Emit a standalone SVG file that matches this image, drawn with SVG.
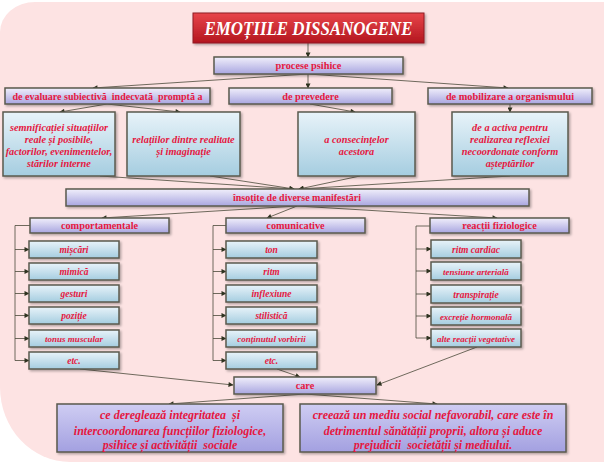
<svg xmlns="http://www.w3.org/2000/svg" width="604" height="462" viewBox="0 0 604 462">
<defs>
<linearGradient id="gLav" x1="0" y1="0" x2="0" y2="1"><stop offset="0" stop-color="#f1effb"/><stop offset="1" stop-color="#a9a6e0"/></linearGradient>
<linearGradient id="gLav2" x1="0" y1="0" x2="0" y2="1"><stop offset="0" stop-color="#cfcdf3"/><stop offset="1" stop-color="#a3a0e0"/></linearGradient>
<linearGradient id="gBlu" x1="0" y1="0" x2="0" y2="1"><stop offset="0" stop-color="#e8f3f9"/><stop offset="1" stop-color="#a5cde0"/></linearGradient>
<linearGradient id="gRed" x1="0" y1="0" x2="0" y2="1"><stop offset="0" stop-color="#e8454a"/><stop offset="1" stop-color="#b3161f"/></linearGradient>
<filter id="sh" x="-10%" y="-20%" width="120%" height="150%"><feDropShadow dx="1.5" dy="1.5" stdDeviation="1" flood-color="#000" flood-opacity="0.3"/></filter>
<marker id="ar" viewBox="0 0 10 10" refX="9" refY="5" markerWidth="6" markerHeight="5" markerUnits="userSpaceOnUse" orient="auto"><path d="M0,0 L10,5 L0,10 Z" fill="#2f3320"/></marker>
<style>
.lav{fill:url(#gLav);stroke:#5a5a4e;stroke-width:1.5;filter:url(#sh)}
.lav2{fill:url(#gLav2);stroke:#5a5a4e;stroke-width:1.5;filter:url(#sh)}
.blu{fill:url(#gBlu);stroke:#5a5a4e;stroke-width:1.5;filter:url(#sh)}
.t{font-family:"Liberation Serif","Times New Roman",serif;font-weight:bold;fill:#e5173f;text-anchor:middle}
.h{font-size:10.3px}
.i{font-style:italic}
.s{font-size:10.3px}
.it{font-size:9.5px}
.il{font-size:9px}
.b{font-size:12px}
.c{stroke:#4a4a3a;stroke-width:0.8;fill:none}
.ca{stroke:#4a4a3a;stroke-width:0.8;fill:none;marker-end:url(#ar)}
</style>
</defs>
<rect width="604" height="462" fill="#ffffff"/>
<path d="M35,2 H604 V462 H70 A70 75 0 0 1 0 387 V32 A35 30 0 0 1 35 2 Z" fill="#fde3e3"/>

<g id="connectors">
<path class="ca" d="M308,43 V57"/>
<path class="ca" d="M308,74 L93,88"/>
<path class="ca" d="M308,74 V88"/>
<path class="ca" d="M308,74 L508,88"/>
<path class="ca" d="M107,104 L60,112"/>
<path class="ca" d="M107,104 L180,112"/>
<path class="ca" d="M310,104 L355,112"/>
<path class="ca" d="M510,104 V112"/>
<path class="ca" d="M100,176 L294,189"/>
<path class="ca" d="M210,176 L294,189"/>
<path class="ca" d="M360,176 L299,189"/>
<path class="ca" d="M510,176 L299,189"/>
<path class="ca" d="M297,206 L102,218"/>
<path class="ca" d="M297,206 L267,218"/>
<path class="ca" d="M297,206 L497,218"/>
<path class="c" d="M30,225.5 H15 V360.5"/>
<path class="ca" d="M15,249.5 H29"/>
<path class="ca" d="M15,271.5 H29"/>
<path class="ca" d="M15,293.5 H29"/>
<path class="ca" d="M15,315.5 H29"/>
<path class="ca" d="M15,338.5 H29"/>
<path class="ca" d="M15,360.5 H29"/>
<path class="c" d="M226,225.5 H213 V360.5"/>
<path class="ca" d="M213,249.5 H226"/>
<path class="ca" d="M213,271.5 H226"/>
<path class="ca" d="M213,293.5 H226"/>
<path class="ca" d="M213,315.5 H226"/>
<path class="ca" d="M213,338.5 H226"/>
<path class="ca" d="M213,360.5 H226"/>
<path class="c" d="M430,226 H416 V338"/>
<path class="ca" d="M416,249 H431"/>
<path class="ca" d="M416,271 H431"/>
<path class="ca" d="M416,294 H431"/>
<path class="ca" d="M416,316 H431"/>
<path class="ca" d="M416,338 H431"/>
<path class="ca" d="M80,369 L233,385"/>
<path class="ca" d="M277,369 L300,377"/>
<path class="ca" d="M477,347 L377,385"/>
<path class="ca" d="M305,394 L169,404"/>
<path class="ca" d="M305,394 L437,404"/>
</g>

<g id="title">
<rect x="193" y="13" width="231" height="30" fill="url(#gRed)" stroke="#8f1d22" stroke-width="1" filter="url(#sh)"/>
<text x="308.5" y="35" font-family="'Liberation Serif','Times New Roman',serif" font-weight="bold" font-style="italic" font-size="19" fill="#ffffff" text-anchor="middle" textLength="208" lengthAdjust="spacingAndGlyphs">EMOȚIILE DISSANOGENE</text>
</g>
<g id="procese"><rect class="lav" x="214" y="57" width="189" height="17"/><text class="t h" x="308.5" y="69">procese psihice</text></g>

<g id="evaluare"><rect class="lav" x="5" y="88" width="205" height="16"/><text class="t" font-size="10" x="107.5" y="99.5" style="white-space:pre">de evaluare subiectivă  indecvată  promptă a</text></g>
<g id="prevedere"><rect class="lav" x="229" y="88" width="163" height="16"/><text class="t h" x="310.5" y="99.5">de prevedere</text></g>
<g id="mobilizare"><rect class="lav" x="428" y="88" width="164" height="16"/><text class="t h" x="510" y="99.5">de mobilizare a organismului</text></g>

<g id="semnificatiei"><rect class="blu" x="3" y="112" width="112" height="64"/>
<text class="t i s" x="59" y="130.5">semnificației situațiilor</text>
<text class="t i s" x="59" y="142.5">reale și posibile,</text>
<text class="t i s" x="59" y="154.5">factorilor, evenimentelor,</text>
<text class="t i s" x="59" y="166.5">stărilor interne</text></g>
<g id="relatiilor"><rect class="blu" x="127" y="112" width="113" height="64"/>
<text class="t i s" x="183.5" y="142.5">relațiilor dintre realitate</text>
<text class="t i s" x="183.5" y="154.5">și imaginație</text></g>
<g id="consecintelor"><rect class="blu" x="298" y="112" width="117" height="64"/>
<text class="t i s" x="356.5" y="142.5">a consecințelor</text>
<text class="t i s" x="356.5" y="154.5">acestora</text></g>
<g id="activa"><rect class="blu" x="452" y="112" width="116" height="64"/>
<text class="t i s" x="510" y="130.5">de a activa pentru</text>
<text class="t i s" x="510" y="142.5">realizarea reflexiei</text>
<text class="t i s" x="510" y="154.5">necoordonate conform</text>
<text class="t i s" x="510" y="166.5">așteptărilor</text></g>

<g id="insotite"><rect class="lav" x="66" y="189" width="463" height="17"/><text class="t" font-size="10" x="297" y="201">însoțite de diverse manifestări</text></g>

<g id="comportamentale"><rect class="lav" x="30" y="218" width="139" height="15"/><text class="t h" x="99.5" y="229">comportamentale</text></g>
<g id="comunicative"><rect class="lav" x="226" y="218" width="139" height="15"/><text class="t h" x="295.5" y="229">comunicative</text></g>
<g id="reactii"><rect class="lav" x="430" y="218" width="139" height="15"/><text class="t h" x="499.5" y="229">reacții fiziologice</text></g>

<g id="miscari"><rect class="blu" x="29" y="241" width="90" height="17"/><text class="t i it" x="74" y="252.5">mișcări</text></g>
<g id="mimica"><rect class="blu" x="29" y="263" width="90" height="17"/><text class="t i it" x="74" y="274.5">mimică</text></g>
<g id="gesturi"><rect class="blu" x="29" y="285" width="90" height="17"/><text class="t i it" x="74" y="296.5">gesturi</text></g>
<g id="pozitie"><rect class="blu" x="29" y="307" width="90" height="17"/><text class="t i it" x="74" y="318.5">poziție</text></g>
<g id="tonus"><rect class="blu" x="29" y="330" width="90" height="17"/><text class="t i il" x="74" y="341.5">tonus muscular</text></g>
<g id="etc1"><rect class="blu" x="29" y="352" width="90" height="17"/><text class="t i it" x="74" y="363.5">etc.</text></g>

<g id="ton"><rect class="blu" x="226" y="241" width="91" height="17"/><text class="t i it" x="271.5" y="252.5">ton</text></g>
<g id="ritm"><rect class="blu" x="226" y="263" width="91" height="17"/><text class="t i it" x="271.5" y="274.5">ritm</text></g>
<g id="inflexiune"><rect class="blu" x="226" y="285" width="91" height="17"/><text class="t i it" x="271.5" y="296.5">inflexiune</text></g>
<g id="stilistica"><rect class="blu" x="226" y="307" width="91" height="17"/><text class="t i it" x="271.5" y="318.5">stilistică</text></g>
<g id="continutul"><rect class="blu" x="226" y="330" width="91" height="17"/><text class="t i il" x="271.5" y="341.5">conținutul vorbirii</text></g>
<g id="etc2"><rect class="blu" x="226" y="352" width="91" height="17"/><text class="t i it" x="271.5" y="363.5">etc.</text></g>

<g id="ritmcardiac"><rect class="blu" x="431" y="240" width="90" height="18"/><text class="t i it" x="476" y="252.5">ritm cardiac</text></g>
<g id="tensiune"><rect class="blu" x="431" y="262" width="90" height="18"/><text class="t i il" x="476" y="274.5">tensiune arterială</text></g>
<g id="transpiratie"><rect class="blu" x="431" y="285" width="90" height="18"/><text class="t i it" x="476" y="297.5">transpirație</text></g>
<g id="excretie"><rect class="blu" x="431" y="307" width="90" height="18"/><text class="t i il" x="476" y="319.5">excreție hormonală</text></g>
<g id="alte"><rect class="blu" x="431" y="329" width="90" height="18"/><text class="t i il" x="476" y="341.5">alte reacții vegetative</text></g>

<g id="care"><rect class="lav" x="234" y="377" width="142" height="17"/><text class="t h" x="305" y="389">care</text></g>

<g id="deregleaza"><rect class="lav2" x="57" y="404" width="226" height="48"/>
<text class="t i b" x="170" y="419" style="white-space:pre">ce dereglează integritatea  și</text>
<text class="t i b" x="170" y="434.5">intercoordonarea funcțiilor fiziologice,</text>
<text class="t i b" x="170" y="449" style="white-space:pre">psihice și activității  sociale</text></g>
<g id="creeaza"><rect class="lav2" x="300" y="404" width="266" height="48"/>
<text class="t i b" x="433" y="419">creează un mediu social nefavorabil, care este în</text>
<text class="t i b" x="433" y="434.5">detrimentul sănătății proprii, altora și aduce</text>
<text class="t i b" x="433" y="449" style="white-space:pre">prejudicii  societății și mediului.</text></g>
</svg>
